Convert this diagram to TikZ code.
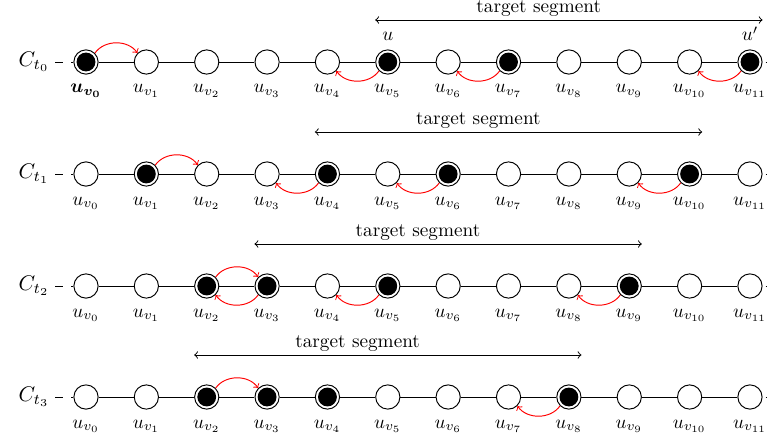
\documentclass[tikz,border=0pt]{standalone}
\usepackage{bm}
\usetikzlibrary{calc}
\begin{document}
\begin{tikzpicture}[x=0.52pt,y=-0.52pt,
  vtx/.style={circle,draw,line width=0.5pt,fill=white,minimum size=12.6pt,inner sep=0pt},
  full/.style={vtx,path picture={\fill[black] (path picture bounding box.center) circle (4.9pt);}},
  edge/.style={line width=0.5pt},
  endash/.style={edge,dash pattern=on 4.16pt off 4.16pt},
  lbl/.style={anchor=base,inner sep=0pt},
  segtext/.style={inner sep=0.5pt},
  move/.style={red,line width=0.5pt,->,bend left=55},
  seg/.style={<->,line width=0.5pt}]
\clip (0,0) rectangle (767,438);
\foreach \r/\y/\fa/\fb/\fc/\fd in {0/62/0/5/7/11,1/174/1/4/6/10,2/286/2/3/5/9,3/397/2/3/4/8}{
  \node[scale=1.1] (c\r) at (34,\y) {$C_{t_\r}$};
  \foreach \i in {0,...,11}{
    \pgfmathtruncatemacro\isf{(\i==\fa)||(\i==\fb)||(\i==\fc)||(\i==\fd)}
    \ifnum\isf=1 \def\st{full}\else\def\st{vtx}\fi
    \node[\st] (n\r-\i) at (86+60.36*\i,\y) {};
    \pgfmathtruncatemacro\isb{(\r==0)&&(\i==0)}
    \ifnum\isb=1
      \node[lbl] (l\r-\i) at ($(n\r-\i)+(0,31)$) {$\bm{u_{v_{0}}}$};
    \else
      \node[lbl] (l\r-\i) at ($(n\r-\i)+(0,31)$) {$u_{v_{\i}}$};
    \fi
  }
  \foreach \i [count=\j] in {0,...,10}{
    \draw[edge] (n\r-\i) -- (n\r-\j);
  }
  \coordinate (ls\r) at (55,\y);
  \coordinate (rs\r) at (800,\y);
  \draw[endash] (ls\r) -- (n\r-0);
  \draw[endash,dash phase=6.76pt] (n\r-11) -- (rs\r);
}
% target segments
\foreach \r/\a/\b/\c/\d in {0/5/11/7/8,1/4/10/6/7,2/3/9/5/6,3/2/8/4/5}{
  \coordinate (sa\r) at ($(n\r-\a.west)+(0,-42)$);
  \coordinate (sb\r) at ($(n\r-\b.east)+(0,-42)$);
  \draw[seg] (sa\r) -- (sb\r);
  \node[segtext] (t\r) at ($(n\r-\c)!0.5!(n\r-\d)+(0,-53)$) {target segment};
}
\node[lbl] (uu) at ($(n0-5)+(0,-21)$) {$u$};
\node[lbl] (uup) at ($(n0-11)+(0,-21)$) {$u'$};
% moves
\foreach \r/\f/\t in {0/0/1,0/5/4,0/7/6,0/11/10,1/1/2,1/4/3,1/6/5,1/10/9,2/2/3,2/3/2,2/5/4,2/9/8,3/2/3,3/8/7}{
  \ifnum\t>\f
    \draw[move] (n\r-\f.45) to (n\r-\t.135);
  \else
    \draw[move] (n\r-\f.225) to (n\r-\t.-45);
  \fi
}
\end{tikzpicture}
\end{document}
